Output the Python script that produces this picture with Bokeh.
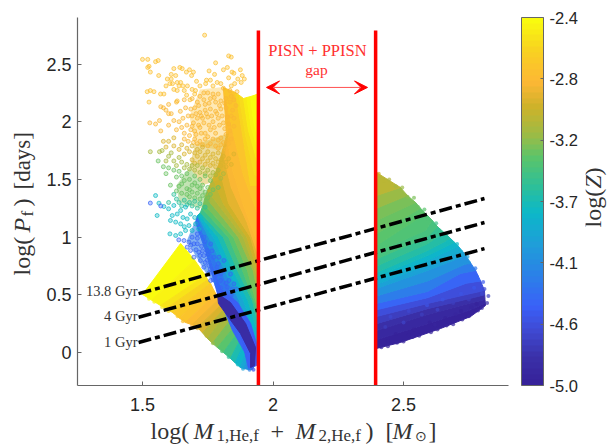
import numpy as np
from math import pi
from bokeh.plotting import figure
from bokeh.layouts import column, row
from bokeh.models import (ColumnDataSource, LinearColorMapper, ColorBar, FixedTicker,
                          Label, Arrow, VeeHead)
from bokeh.transform import transform
from bokeh.embed import file_html
from bokeh.resources import INLINE

# ---- axes ----
x_ticks = [1.5, 2, 2.5]
y_ticks = [0, 0.5, 1, 1.5, 2, 2.5]
cb_ticks = [-5.0, -4.567, -4.133, -3.7, -3.267, -2.833, -2.4]
cb_labels = ["-5.0", "-4.6", "-4.1", "-3.7", "-3.2", "-2.8", "-2.4"]

# ---- colour map stops (fraction, colour) ----
cmap_stops = [(0, "#36229a"), (.07, "#3a30a8"), (.14, "#3f48d0"), (.21, "#3a60f8"), (.295, "#2b80e8"),
              (.385, "#1e9fd8"), (.47, "#0cb8c8"), (.54, "#2cbf9a"), (.62, "#5ac46b"), (.685, "#9dbb45"),
              (.76, "#cdb22a"), (.83, "#fdb735"), (.92, "#f8d320"), (1, "#f9fb0e")]

# ---- age lines ----
age_x = [1.485, 2.81]
age_1 = [0.087, 0.90]
age_4 = [0.305, 1.126]
age_13 = [0.51, 1.334]
gap_lo, gap_hi = 1.944, 2.393
gap_y = [-0.286, 2.79]

# ---- dense regions: iso-metallicity curves (z, [(x, y), ...]) ----
right_fan = [
    (-5.0, [(2.396, .035), (2.488, .087), (2.642, .208), (2.757, .312), (2.814, .407)]),
    (-4.92, [(2.396, .11), (2.592, .25), (2.757, .37), (2.813, .43)]),
    (-4.85, [(2.396, .19), (2.592, .33), (2.757, .43), (2.812, .46)]),
    (-4.75, [(2.396, .25), (2.592, .38), (2.757, .47), (2.811, .50)]),
    (-4.65, [(2.396, .312), (2.592, .425), (2.757, .511), (2.81, .537)]),
    (-4.5, [(2.396, .37), (2.592, .475), (2.74, .60), (2.795, .62)]),
    (-4.35, [(2.396, .425), (2.592, .529), (2.718, .685), (2.776, .711)]),
    (-4.18, [(2.396, .49), (2.592, .62), (2.73, .76), (2.757, .776)]),
    (-4.0, [(2.396, .555), (2.592, .711), (2.738, .841)]),
    (-3.92, [(2.396, .59), (2.592, .755), (2.725, .88)]),
    (-3.85, [(2.396, .625), (2.592, .80), (2.71, .92)]),
    (-3.78, [(2.396, .66), (2.592, .84), (2.695, .955)]),
    (-3.7, [(2.396, .693), (2.592, .884), (2.68, .988)]),
    (-3.6, [(2.396, .75), (2.59, .94), (2.655, 1.04)]),
    (-3.52, [(2.396, .81), (2.59, 1.00), (2.63, 1.09)]),
    (-3.47, [(2.396, .87), (2.585, 1.06), (2.61, 1.145)]),
    (-3.43, [(2.396, .927), (2.584, 1.205)]),
    (-3.4, [(2.396, 1.03), (2.565, 1.25)]),
    (-3.35, [(2.396, 1.144), (2.546, 1.30)]),
    (-3.27, [(2.396, 1.25), (2.515, 1.36)]),
    (-3.2, [(2.396, 1.36), (2.488, 1.43)]),
    (-3.0, [(2.396, 1.56), (2.396, 1.56)]),
]
lower_fan = [
    (-2.42, [(1.50, .503), (1.646, .945)]),
    (-2.45, [(1.535, .455), (1.70, .80)]),
    (-2.5, [(1.569, .407), (1.741, .667)]),
    (-2.57, [(1.59, .38), (1.75, .63)]),
    (-2.65, [(1.615, .347), (1.761, .598)]),
    (-2.72, [(1.64, .30), (1.77, .555)]),
    (-2.8, [(1.665, .26), (1.78, .511)]),
    (-2.88, [(1.69, .24), (1.795, .47)]),
    (-2.95, [(1.711, .217), (1.807, .425)]),
    (-3.05, [(1.73, .17), (1.815, .385)]),
    (-3.15, [(1.749, .121), (1.826, .347)]),
    (-3.25, [(1.768, .08), (1.84, .29)]),
    (-3.35, [(1.787, .043), (1.856, .234)]),
    (-3.47, [(1.81, 0), (1.87, .19)]),
    (-3.6, [(1.837, -.052), (1.883, .147)]),
    (-3.72, [(1.855, -.09), (1.895, .105)]),
    (-3.85, [(1.875, -.13), (1.906, .061)]),
    (-4.0, [(1.89, -.14), (1.917, .03)]),
    (-4.15, [(1.906, -.147), (1.929, 0)]),
    (-4.5, [(1.921, -.147), (1.941, -.07)]),
]
upper_fan = [
    (-4.5, [(1.703, 1.127), (1.741, .884), (1.787, .511), (1.845, .19), (1.914, -.087)]),
    (-4.35, [(1.707, 1.16), (1.741, .93), (1.793, .61), (1.85, .32), (1.914, .01), (1.93, -.07)]),
    (-4.2, [(1.711, 1.187), (1.741, .971), (1.799, .711), (1.856, .451), (1.914, .104), (1.937, -.052)]),
    (-4.02, [(1.711, 1.187), (1.757, .985), (1.815, .711), (1.87, .451), (1.93, .02), (1.94, 0)]),
    (-3.85, [(1.711, 1.187), (1.772, .997), (1.83, .711), (1.887, .451), (1.944, .061)]),
    (-3.72, [(1.716, 1.2), (1.79, .997), (1.847, .711), (1.904, .451), (1.944, .15)]),
    (-3.6, [(1.722, 1.213), (1.81, .997), (1.864, .711), (1.921, .451), (1.944, .234)]),
    (-3.47, [(1.728, 1.25), (1.83, .997), (1.883, .711), (1.932, .42), (1.944, .30)]),
    (-3.35, [(1.734, 1.291), (1.849, .997), (1.902, .711), (1.944, .364)]),
    (-3.25, [(1.74, 1.35), (1.818, 1.14), (1.868, .997), (1.924, .71), (1.944, .49)]),
    (-3.15, [(1.749, 1.404), (1.787, 1.291), (1.887, .997), (1.944, .624)]),
    (-3.07, [(1.77, 1.51), (1.81, 1.29), (1.90, .997), (1.944, .69)]),
    (-3.0, [(1.791, 1.62), (1.83, 1.291), (1.914, .997), (1.944, .754)]),
    (-2.92, [(1.806, 1.75), (1.84, 1.43), (1.90, 1.13), (1.944, .84)]),
    (-2.85, [(1.822, 1.88), (1.845, 1.577), (1.887, 1.274), (1.944, .927)]),
    (-2.8, [(1.81, 2.296), (1.845, 1.924), (1.887, 1.534), (1.944, 1.187)]),
    (-2.68, [(1.856, 2.253), (1.887, 1.837), (1.914, 1.447), (1.944, 1.447)]),
    (-2.6, [(1.87, 2.23), (1.895, 1.88), (1.93, 1.54), (1.944, 1.53)]),
    (-2.54, [(1.887, 2.201), (1.906, 1.924), (1.944, 1.62)]),
    (-2.48, [(1.90, 2.21), (1.915, 1.97), (1.944, 1.73)]),
    (-2.44, [(1.914, 2.218), (1.925, 2.01), (1.944, 1.837)]),
    (-2.42, [(1.93, 2.23), (1.935, 2.0), (1.944, 1.90)]),
    (-2.4, [(1.944, 2.244), (1.944, 1.967)]),
]
strip_halo = (-4.45, [(1.787, .511), (1.807, .537), (1.864, .433), (1.914, .251), (1.941, .043), (1.937, -.113),
                      (1.906, -.139), (1.875, .165), (1.83, .303)])
strip_core = (-4.85, [(1.787, .511), (1.837, .433), (1.895, .251), (1.933, .043), (1.929, -.113),
                      (1.914, -.13), (1.914, -.009), (1.875, .165), (1.83, .303), (1.791, .425)])
# translucent haze below the densest clouds of points (z, opacity, outline)
haze = [(-2.8, .35, [(1.72, 2.28), (1.81, 2.3), (1.83, 1.9), (1.80, 1.75), (1.70, 1.8), (1.68, 2.05)]),
        (-3.0, .45, [(1.70, 1.8), (1.83, 1.9), (1.80, 1.5), (1.73, 1.45), (1.68, 1.6)]),
        (-3.3, .45, [(1.68, 1.6), (1.73, 1.45), (1.76, 1.30), (1.72, 1.25), (1.64, 1.3), (1.63, 1.45)]),
        (-4.25, .6, [(1.67, .97), (1.70, 1.13), (1.74, .95), (1.79, .55), (1.74, .70), (1.695, .87)])]

# ---- sparse points ----
pts_orange = [(1.50, 2.54), (1.52, 2.54), (1.55, 2.52), (1.56, 2.53), (1.525, 2.48), (1.53, 2.43), (1.52, 2.47),
              (1.738, 2.75), (1.83, 2.57), (1.84, 2.56), (1.78, 2.51), (1.755, 2.44), (1.825, 2.47), (1.81, 2.45),
              (1.875, 2.45), (1.843, 2.43), (1.85, 2.42), (1.882, 2.40), (1.89, 2.37), (1.776, 2.41), (1.62, 2.46),
              (1.643, 2.47), (1.652, 2.46), (1.668, 2.43), (1.68, 2.45), (1.695, 2.43), (1.688, 2.40), (1.61, 2.41),
              (1.562, 2.40), (1.595, 2.37), (1.61, 2.37), (1.605, 2.33), (1.627, 2.40), (1.633, 2.34), (1.646, 2.34),
              (1.64, 2.31), (1.59, 2.31), (1.62, 2.28), (1.633, 2.27), (1.66, 2.27), (1.672, 2.31), (1.707, 2.35),
              (1.745, 2.36), (1.742, 2.33), (1.76, 2.36), (1.786, 2.34), (1.69, 2.28), (1.518, 2.26), (1.53, 2.27),
              (1.544, 2.26), (1.525, 2.17), (1.569, 2.24), (1.582, 2.24), (1.633, 2.18), (1.669, 2.23), (1.703, 2.27),
              (1.655, 2.31), (1.615, 2.33), (1.72, 2.31), (1.77, 2.31), (1.80, 2.33), (1.83, 2.38), (1.865, 2.37),
              (1.878, 2.34), (1.853, 2.33), (1.84, 2.31), (1.70, 2.24), (1.682, 2.19)]
pts_amber = [(1.57, 2.13), (1.58, 2.12), (1.59, 2.10), (1.60, 2.07), (1.60, 2.15), (1.61, 2.07), (1.63, 2.17),
             (1.66, 2.19), (1.69, 2.2), (1.71, 2.17), (1.72, 2.22), (1.735, 2.25), (1.75, 2.25), (1.77, 2.24),
             (1.79, 2.24), (1.81, 2.29), (1.74, 2.15), (1.76, 2.2), (1.78, 2.17), (1.80, 2.18), (1.82, 2.2),
             (1.84, 2.22), (1.70, 2.12), (1.72, 2.08), (1.74, 2.1), (1.76, 2.11), (1.78, 2.09), (1.8, 2.11),
             (1.82, 2.12), (1.84, 2.05), (1.69, 2.05), (1.71, 2.03), (1.73, 2.03), (1.75, 2.04), (1.77, 2.0),
             (1.79, 2.03), (1.81, 1.99), (1.83, 1.98), (1.85, 1.96), (1.528, 1.99), (1.55, 1.98), (1.565, 2.01),
             (1.57, 1.92), (1.6, 1.97), (1.62, 2.01), (1.64, 2.0), (1.63, 1.93), (1.65, 1.95), (1.66, 1.90),
             (1.67, 1.97), (1.69, 1.96), (1.70, 1.92), (1.72, 1.95), (1.74, 1.9), (1.76, 1.93), (1.78, 1.9),
             (1.80, 1.86), (1.82, 1.89), (1.84, 1.85), (1.68, 1.88), (1.66, 1.85), (1.70, 1.85), (1.72, 1.83),
             (1.74, 1.85), (1.76, 1.81), (1.78, 1.79), (1.8, 1.8), (1.82, 1.76),
             (1.715, 2.14), (1.735, 2.19), (1.755, 2.16), (1.775, 2.21), (1.795, 2.14), (1.815, 2.16), (1.835, 2.17),
             (1.705, 2.07), (1.725, 2.05), (1.745, 2.07), (1.765, 2.05), (1.785, 2.07), (1.805, 2.05), (1.825, 2.04),
             (1.695, 1.99), (1.715, 1.97), (1.735, 1.99), (1.755, 1.97), (1.775, 1.95), (1.795, 1.97), (1.815, 1.94),
             (1.835, 1.92), (1.655, 2.03), (1.675, 2.05), (1.645, 2.09), (1.665, 2.12), (1.685, 2.11),
             (1.685, 1.93), (1.705, 1.89), (1.725, 1.90), (1.75, 1.87), (1.77, 1.85), (1.79, 1.84), (1.81, 1.82),
             (1.83, 1.81), (1.71, 1.81), (1.73, 1.80), (1.75, 1.79), (1.79, 1.77), (1.695, 1.82), (1.675, 1.83),
             (1.835, 2.27), (1.85, 2.19), (1.862, 2.26), (1.845, 2.10), (1.858, 2.14), (1.85, 2.03), (1.825, 1.84)]
pts_gold = [(1.6, 1.83), (1.62, 1.86), (1.58, 1.83), (1.59, 1.78), (1.62, 1.79), (1.65, 1.80), (1.67, 1.77),
            (1.69, 1.79), (1.71, 1.76), (1.73, 1.78), (1.75, 1.74), (1.77, 1.72), (1.79, 1.73), (1.81, 1.70),
            (1.83, 1.68), (1.71, 1.7), (1.73, 1.68), (1.75, 1.66), (1.77, 1.64), (1.79, 1.65), (1.69, 1.67), (1.85, 1.72),
            (1.70, 1.73), (1.72, 1.74), (1.74, 1.71), (1.76, 1.69), (1.78, 1.68), (1.80, 1.67), (1.82, 1.65),
            (1.72, 1.65), (1.74, 1.63), (1.76, 1.62), (1.78, 1.61), (1.80, 1.62), (1.68, 1.74), (1.66, 1.72),
            (1.64, 1.76), (1.70, 1.64), (1.82, 1.61), (1.84, 1.63)]
pts_olive = [(1.53, 1.74), (1.565, 1.74), (1.575, 1.75), (1.6, 1.70), (1.61, 1.73), (1.62, 1.66), (1.59, 1.66),
             (1.64, 1.69), (1.65, 1.65), (1.67, 1.63), (1.69, 1.62), (1.71, 1.62), (1.73, 1.6), (1.75, 1.58),
             (1.77, 1.56), (1.79, 1.58), (1.81, 1.55), (1.68, 1.59), (1.70, 1.58), (1.72, 1.56), (1.74, 1.55),
             (1.76, 1.53), (1.78, 1.54), (1.80, 1.51), (1.66, 1.60), (1.63, 1.62)]
pts_green = [(1.56, 1.66), (1.58, 1.61), (1.59, 1.55), (1.6, 1.6), (1.62, 1.58), (1.64, 1.57), (1.63, 1.52),
             (1.65, 1.53), (1.67, 1.55), (1.68, 1.5), (1.70, 1.53), (1.72, 1.5), (1.74, 1.53), (1.76, 1.49),
             (1.73, 1.45), (1.75, 1.43), (1.71, 1.44), (1.69, 1.45), (1.67, 1.42), (1.65, 1.46), (1.607, 1.45),
             (1.63, 1.40), (1.65, 1.38), (1.67, 1.37), (1.69, 1.39), (1.71, 1.38), (1.73, 1.36), (1.75, 1.34),
             (1.77, 1.41), (1.79, 1.43), (1.66, 1.49), (1.64, 1.44), (1.68, 1.41), (1.70, 1.47), (1.72, 1.42),
             (1.74, 1.39), (1.76, 1.37), (1.68, 1.35), (1.70, 1.34), (1.72, 1.33)]
pts_teal = [(1.62, 1.37), (1.63, 1.33), (1.64, 1.30), (1.66, 1.32), (1.67, 1.28), (1.69, 1.27), (1.70, 1.31),
            (1.72, 1.29), (1.74, 1.26), (1.6, 1.30), (1.65, 1.27), (1.68, 1.30), (1.71, 1.25)]
pts_cyan = [(1.55, 1.36), (1.563, 1.294), (1.582, 1.265), (1.556, 1.187), (1.62, 1.274), (1.6, 1.245), (1.646, 1.23),
            (1.614, 1.187), (1.633, 1.2), (1.665, 1.26), (1.627, 1.13), (1.607, 1.144), (1.646, 1.115), (1.671, 1.158),
            (1.684, 1.2), (1.605, 1.028), (1.627, 1.014), (1.646, 1.028), (1.665, 1.057), (1.678, 1.1), (1.69, 1.057),
            (1.703, 1.115), (1.722, 1.173), (1.655, 1.17), (1.66, 1.09), (1.70, 1.17), (1.715, 1.07)]
pts_blue = [(1.53, 1.295), (1.57, 1.27), (1.671, .913), (1.697, .826), (1.722, .797), (1.735, .739), (1.71, .942),
            (1.735, 1.0), (1.748, .884), (1.761, .941), (1.773, .826), (1.786, .739), (1.761, .624), (1.799, .624),
            (1.812, .71), (1.831, .624), (1.825, .566), (1.773, .68), (1.735, .84), (1.716, .869), (1.697, .942),
            (1.684, .884), (1.678, .956), (1.659, .97), (1.639, .976), (1.71, 1.028), (1.69, .999), (1.754, .754),
            (1.793, .826), (1.812, .797), (1.837, .68), (1.85, .595), (1.726, .92), (1.748, .80), (1.76, .72),
            (1.78, .67), (1.74, .96), (1.766, .88), (1.79, .77), (1.80, .68), (1.82, .60), (1.845, .55),
            (1.685, .93), (1.705, .89), (1.72, .84), (1.74, .78), (1.755, .69), (1.77, .63), (1.785, .585),
            (1.80, .56), (1.82, .52), (1.84, .50), (1.86, .55), (1.75, .85), (1.71, .99), (1.73, .88)]
pts_groups = [(-2.8, pts_orange), (-2.85, pts_amber), (-2.98, pts_gold), (-3.2, pts_olive),
              (-3.35, pts_green), (-3.6, pts_teal), (-3.75, pts_cyan), (-4.4, pts_blue)]
# points that roughen the outlines and the dark part of the fans: (x, y, z)
pts_edges = [(2.405, 1.55, -3.02), (2.425, 1.49, -3.1), (2.445, 1.50, -3.15), (2.47, 1.44, -3.2), (2.495, 1.43, -3.22),
             (2.515, 1.35, -3.27), (2.54, 1.34, -3.32), (2.555, 1.26, -3.36), (2.58, 1.24, -3.4), (2.595, 1.16, -3.45),
             (2.625, 1.12, -3.5), (2.635, 1.06, -3.55), (2.665, 1.03, -3.6), (2.67, .96, -3.7), (2.705, .94, -3.75),
             (2.715, .87, -3.9), (2.745, .83, -4.0), (2.75, .78, -4.1), (2.775, .73, -4.3), (2.78, .66, -4.4),
             (2.805, .61, -4.5), (2.81, .55, -4.6), (2.825, .49, -4.7), (2.82, .43, -4.8),
             (2.415, .045, -4.95), (2.44, .055, -4.95), (2.475, .085, -4.95), (2.50, .095, -4.95), (2.535, .135, -4.95),
             (2.56, .145, -4.95), (2.605, .175, -4.95), (2.63, .20, -4.95), (2.665, .235, -4.95), (2.69, .245, -4.95),
             (2.725, .285, -4.95), (2.75, .315, -4.95), (2.785, .365, -4.95), (2.80, .385, -4.9),
             (1.525, .465, -2.42), (1.545, .44, -2.45), (1.575, .395, -2.5), (1.60, .36, -2.6), (1.635, .315, -2.7),
             (1.655, .27, -2.78), (1.69, .235, -2.88), (1.71, .21, -2.95), (1.745, .145, -3.1), (1.77, .08, -3.25),
             (1.805, .01, -3.42), (1.83, -.04, -3.58), (1.865, -.105, -3.75), (1.885, -.14, -3.95), (1.91, -.15, -4.2),
             (1.925, -.15, -4.5),
             (2.43, .22, -4.7), (2.47, .16, -5.0), (2.50, .26, -4.65), (2.54, .20, -5.0), (2.57, .33, -4.7),
             (2.60, .26, -5.0), (2.63, .37, -4.65), (2.66, .30, -5.0), (2.69, .43, -4.7), (2.72, .36, -5.0),
             (2.75, .46, -4.7), (2.78, .42, -5.0), (2.80, .51, -4.6), (2.45, .31, -4.6), (2.52, .36, -4.6),
             (2.59, .41, -4.55), (2.65, .46, -4.55), (2.72, .51, -4.55), (2.77, .56, -4.5), (2.44, .10, -5.0),
             (2.52, .15, -5.0), (2.62, .24, -4.95), (2.70, .33, -4.95), (2.76, .39, -4.95)]

# ---- build palette ----
fr = [s[0] for s in cmap_stops]
rgb = np.array([[int(s[1][i:i + 2], 16) for i in (1, 3, 5)] for s in cmap_stops])
t = np.linspace(0, 1, 64)
palette = ["#%02x%02x%02x" % tuple(int(round(np.interp(v, fr, rgb[:, k]))) for k in range(3)) for v in t]
mapper = LinearColorMapper(palette=palette, low=-5.0, high=-2.4)

# The page is split: left strip (y label), main plot, right strip (colour bar label), bottom strip (x label)
LEFT, RIGHT, TOP_H = 38, 585, 418
X0, X1, Y0, Y1 = 1.251, 2.902, -0.286, 2.903
p = figure(width=RIGHT - LEFT, height=TOP_H, x_range=(X0, X1), y_range=(Y0, Y1), output_backend="svg",
           toolbar_location=None, min_border_left=77 - LEFT, min_border_right=RIGHT - 508, min_border_top=17,
           min_border_bottom=TOP_H - 385, outline_line_color=None, background_fill_color="white")
p.grid.visible = False
for ax in (p.xaxis[0], p.yaxis[0]):
    ax.axis_line_color = "#666666"
    ax.axis_line_width = 1.2
    ax.major_tick_line_color = "#666666"
    ax.major_tick_in = 4
    ax.major_tick_out = 0
    ax.minor_tick_line_color = None
    ax.major_label_text_font = "Liberation Sans"
    ax.major_label_text_font_size = "18px"
    ax.major_label_text_color = "#262626"
p.xaxis[0].ticker = FixedTicker(ticks=x_ticks)
p.yaxis[0].ticker = FixedTicker(ticks=y_ticks)
p.xaxis[0].major_label_overrides = {1.5: "1.5", 2: "2", 2.5: "2.5"}
p.yaxis[0].major_label_overrides = {0: "0", 0.5: "0.5", 1: "1", 1.5: "1.5", 2: "2", 2.5: "2.5"}
p.xaxis[0].major_label_standoff = 12
p.yaxis[0].major_label_standoff = 6


def bands(curves):
    xs, ys, zs = [], [], []
    for (z0, a), (z1, b) in zip(curves[:-1], curves[1:]):
        poly = a + b[::-1]
        xs.append([q[0] for q in poly])
        ys.append([q[1] for q in poly])
        zs.append((z0 + z1) / 2)
    return xs, ys, zs


xs, ys, zs = [], [], []
for c in (lower_fan, upper_fan, right_fan):
    a, b, z = bands(c)
    xs += a; ys += b; zs += z
for z, poly in (strip_halo, strip_core):
    xs.append([q[0] for q in poly]); ys.append([q[1] for q in poly]); zs.append(z)
src = ColumnDataSource(dict(xs=xs, ys=ys, z=zs))
p.patches("xs", "ys", source=src, fill_color=transform("z", mapper), line_color=transform("z", mapper), line_width=1)

hsrc = ColumnDataSource(dict(xs=[[q[0] for q in h[2]] for h in haze], ys=[[q[1] for q in h[2]] for h in haze],
                             z=[h[0] for h in haze], a=[h[1] for h in haze]))
p.patches("xs", "ys", source=hsrc, fill_color=transform("z", mapper), fill_alpha="a", line_color=None)

dx, dy, dz = [], [], []
for z, pts in pts_groups:
    for q in pts:
        dx.append(q[0]); dy.append(q[1]); dz.append(z)
dsrc = ColumnDataSource(dict(x=dx, y=dy, z=dz))
p.scatter("x", "y", source=dsrc, size=4, fill_color=transform("z", mapper), fill_alpha=.35,
          line_color=transform("z", mapper), line_alpha=.7, line_width=1)
esrc = ColumnDataSource(dict(x=[q[0] for q in pts_edges], y=[q[1] for q in pts_edges], z=[q[2] for q in pts_edges]))
p.scatter("x", "y", source=esrc, size=4, fill_color=transform("z", mapper), fill_alpha=.7, line_color=None)

for ys_ in (age_1, age_4, age_13):
    p.line(age_x, ys_, line_color="black", line_width=3.5, line_dash="13 4 5 4")
for gx in (gap_lo, gap_hi):
    p.line([gx, gx], gap_y, line_color="#ff0000", line_width=3.5)

p.add_layout(Arrow(end=VeeHead(size=13, line_color="#ff0000", fill_color="#ff0000", line_width=1),
                   start=VeeHead(size=13, line_color="#ff0000", fill_color="#ff0000", line_width=1),
                   x_start=1.975, x_end=2.362, y_start=2.297, y_end=2.297, line_color="#ff5050", line_width=1))

SERIF = "Liberation Serif"
BASE = 0.3  # the label's baseline sits this fraction of the size past the requested position


def txt(fig, s, px, py, size, color="#333333", style="normal", align="left", angle=0):
    if angle:
        px -= BASE * size
    else:
        py -= BASE * size
    fig.add_layout(Label(x=px, y=py, x_units="canvas", y_units="canvas", text=s, text_font=SERIF,
                         text_font_size=f"{size}px", text_color=color, text_font_style=style,
                         text_align=align, angle=angle, text_baseline="alphabetic"))


def strip(w, h):
    f = figure(width=w, height=h, x_range=(0, 1), y_range=(0, 1), output_backend="svg", toolbar_location=None,
               x_axis_location=None, y_axis_location=None, min_border=0, outline_line_color=None)
    f.grid.visible = False
    return f


txt(p, "PISN + PPISN", 317 - LEFT, 55, 16.5, color="#ff3030", align="center")
txt(p, "gap", 316 - LEFT, 74, 15.5, color="#ff3030", align="center")
txt(p, "13.8 Gyr", 137 - LEFT, 295, 14.5, align="right")
txt(p, "4 Gyr", 137 - LEFT, 320, 14.5, align="right")
txt(p, "1 Gyr", 137 - LEFT, 346, 14.5, align="right")

# x label
bottom = strip(608, 446 - TOP_H)
for s, px, py, size, st in [("log(", 150, 438, 24, "normal"), ("M", 193, 438, 24, "italic"),
                            ("1,He,f", 216, 440.5, 17, "normal"), ("+", 270, 438, 24, "normal"),
                            ("M", 295, 438, 24, "italic"), ("2,He,f", 318, 440.5, 17, "normal"),
                            (")", 365, 438, 24, "normal"), ("[", 385, 438, 24, "normal"),
                            ("M", 392, 438, 24, "italic"), ("⊙", 414, 440.5, 14, "normal"),
                            ("]", 428, 438, 24, "normal")]:
    txt(bottom, s, px, py - TOP_H, size, style=st)
# y label
left = strip(LEFT, TOP_H)
for s, py, bx, size, st in [("log(", 275, 29, 24, "normal"), ("P", 232, 29, 24, "italic"),
                            ("f", 216, 32, 17, "normal"), (")", 206, 29, 24, "normal"),
                            ("[days]", 189, 29, 23, "normal")]:
    txt(left, s, bx, py, size, style=st, angle=pi / 2)
# colour bar label
right = strip(608 - RIGHT, TOP_H)
for s, py, st in [("log(", 227, "normal"), ("Z", 188, "italic"), (")", 175, "normal")]:
    txt(right, s, 600 - RIGHT, py, 24, style=st, angle=pi / 2)

cb = ColorBar(color_mapper=mapper, ticker=FixedTicker(ticks=cb_ticks),
              major_label_overrides=dict(zip(cb_ticks, cb_labels)), width=22, height=368,
              location=(444, 0), padding=0, margin=0, bar_line_color="#666666", major_tick_line_color="#666666",
              major_tick_in=3, minor_tick_line_color=None, label_standoff=6,
              major_label_text_font="Liberation Sans", major_label_text_font_size="16.5px",
              major_label_text_color="#262626", background_fill_color=None, border_line_color=None)
p.add_layout(cb, "center")

page = column(row(left, p, right), bottom)
open("out.html", "w").write(file_html(page, INLINE))
